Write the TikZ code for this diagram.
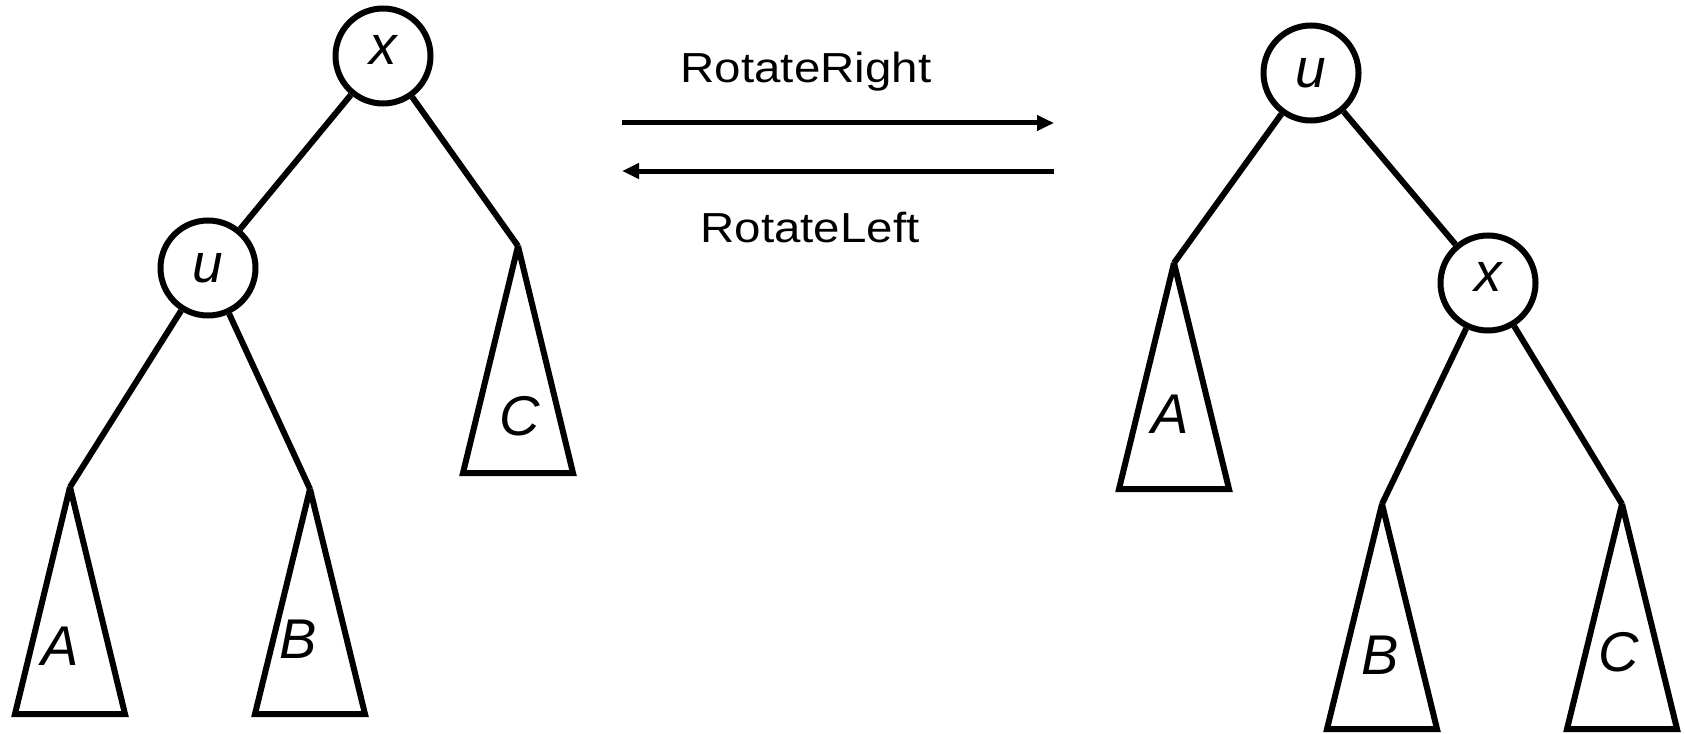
\documentclass[tikz,border=0pt]{standalone}
\usepackage{fontspec}
\setmainfont{Liberation Sans}
\usetikzlibrary{arrows.meta}
\begin{document}
\begin{tikzpicture}[x=1pt,y=-1pt,
  tnode/.style={circle,draw,line width=6pt,minimum size=95pt,inner sep=0pt,font=\fontsize{55}{55}\selectfont\itshape},
  edge/.style={line width=6pt},
  subtree/.style={line width=6pt,line join=miter,miter limit=3},
  sublabel/.style={font=\fontsize{56}{56}\selectfont\itshape,inner sep=0pt},
  oplabel/.style={font=\fontsize{42}{44}\selectfont,inner sep=0pt,anchor=base},
  oparrow/.style={line width=5pt,-{Triangle[length=17pt,width=15pt]}}
]
\useasboundingbox (0,0) rectangle (1685,733);

% left tree
\node[tnode] (Lx) at (383,56) {\raisebox{12pt}{x}};
\node[tnode] (Lu) at (208,268) {u};
\coordinate (LA) at (70,487);
\coordinate (LB) at (310,489);
\coordinate (LC) at (518,246);
\draw[edge] (Lx) -- (Lu);
\draw[edge] (Lx) -- (LC);
\draw[edge] (Lu) -- (LA);
\draw[edge] (Lu) -- (LB);
\draw[subtree] (LA) -- ++(55,227) -- ++(-110,0) -- cycle;
\draw[subtree] (LB) -- ++(55,225) -- ++(-110,0) -- cycle;
\draw[subtree] (LC) -- ++(55,227) -- ++(-110,0) -- cycle;
\node[sublabel] (LAl) at (60,646) {A};
\node[sublabel] (LBl) at (298,639) {B};
\node[sublabel] (LCl) at (520,416) {C};

% operations
\coordinate (r1) at (622,123);
\coordinate (r2) at (1054,123);
\draw[oparrow] (r1) -- (r2);
\coordinate (l1) at (1054,171);
\coordinate (l2) at (622,171);
\draw[oparrow] (l1) -- (l2);
\node[oplabel] (rr) at (806,83) {\scalebox{1.13}[1]{RotateRight}};
\node[oplabel] (rl) at (810,242) {\scalebox{1.13}[1]{RotateLeft}};

% right tree
\node[tnode] (Ru) at (1311,73) {u};
\node[tnode] (Rx) at (1488,283) {\raisebox{12pt}{x}};
\coordinate (RA) at (1174,263);
\coordinate (RB) at (1382,504);
\coordinate (RC) at (1622,504);
\draw[edge] (Ru) -- (RA);
\draw[edge] (Ru) -- (Rx);
\draw[edge] (Rx) -- (RB);
\draw[edge] (Rx) -- (RC);
\draw[subtree] (RA) -- ++(55,226) -- ++(-110,0) -- cycle;
\draw[subtree] (RB) -- ++(55,225) -- ++(-110,0) -- cycle;
\draw[subtree] (RC) -- ++(55,225) -- ++(-110,0) -- cycle;
\node[sublabel] (RAl) at (1170,414) {A};
\node[sublabel] (RBl) at (1380,655) {B};
\node[sublabel] (RCl) at (1619,652) {C};
\end{tikzpicture}
\end{document}
